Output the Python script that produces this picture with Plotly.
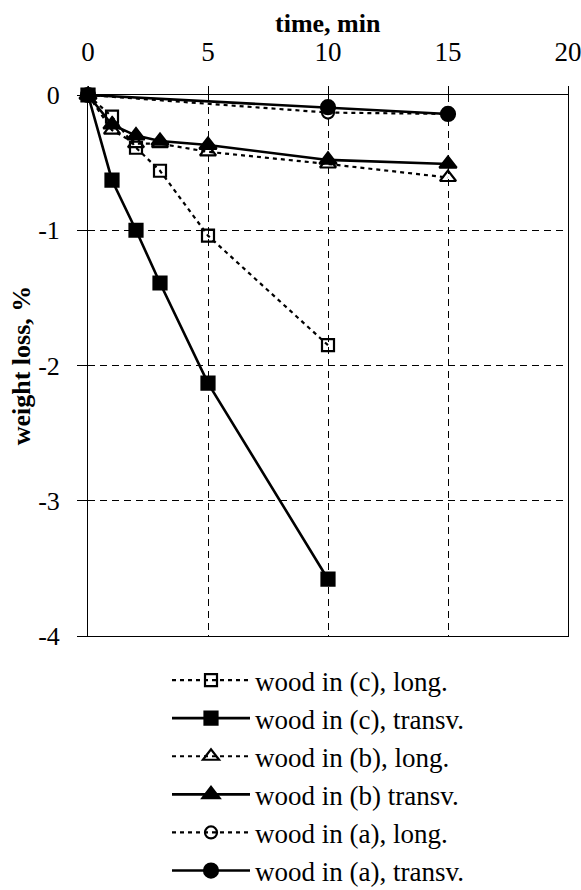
import plotly.graph_objects as go

# ---- data ----
t_c_long = [0, 1, 2, 3, 5, 10]
w_c_long = [0, -0.16, -0.39, -0.56, -1.04, -1.85]

t_c_trans = [0, 1, 2, 3, 5, 10]
w_c_trans = [0, -0.63, -1.0, -1.39, -2.13, -3.58]

t_b_long = [0, 1, 2, 3, 5, 10, 15]
w_b_long = [0, -0.26, -0.36, -0.36, -0.42, -0.51, -0.61]

t_b_trans = [0, 1, 2, 3, 5, 10, 15]
w_b_trans = [0, -0.22, -0.30, -0.34, -0.37, -0.48, -0.51]

t_a_long = [0, 10, 15]
w_a_long = [0, -0.13, -0.14]

t_a_trans = [0, 10, 15]
w_a_trans = [0, -0.09, -0.14]

names = ["wood in (c), long.", "wood in (c), transv.", "wood in (b), long.",
         "wood in (b) transv.", "wood in (a), long.", "wood in (a), transv."]

x_ticks = [0, 5, 10, 15, 20]
y_ticks = [-4, -3, -2, -1, 0]
y_ticktext = ["-4", "-3", "-2", "-1", "0"]

FONT = "Liberation Serif"
DASH = "4px,4px"

series = [
    (t_c_long, w_c_long, names[0], "square-open", 12, DASH, 2.2),
    (t_c_trans, w_c_trans, names[1], "square", 13, "solid", 2.6),
    (t_b_long, w_b_long, names[2], "triangle-up-open", 14, DASH, 2.2),
    (t_b_trans, w_b_trans, names[3], "triangle-up", 15, "solid", 2.6),
    (t_a_long, w_a_long, names[4], "circle-open", 12, DASH, 2.2),
    (t_a_trans, w_a_trans, names[5], "circle", 14, "solid", 2.6),
]

fig = go.Figure()
for i, (x, y, name, sym, size, dash, lw) in enumerate(series):
    fig.add_trace(go.Scatter(
        x=x, y=y, name=name, mode="lines+markers",
        line=dict(color="black", width=lw, dash=dash),
        marker=dict(symbol=sym, size=size, color="black",
                    line=dict(color="black", width=2.2)),
        legendgroup=f"g{i}", cliponaxis=False,
    ))

fig.update_layout(
    width=581, height=890,
    margin=dict(l=88, r=13, t=95, b=254, autoexpand=False),
    paper_bgcolor="white", plot_bgcolor="white",
    font=dict(family=FONT, color="black", size=27),
    showlegend=True,
    legend=dict(
        x=(167 - 88) / 480, xanchor="left",
        y=(636 - 656) / 541, yanchor="top",
        font=dict(family=FONT, size=27, color="black"),
        itemwidth=78,
        tracegroupgap=0,
        bgcolor="rgba(0,0,0,0)",
        borderwidth=0,
    ),
)

fig.add_annotation(
    text="<b>time, min</b>", xref="paper", yref="paper",
    x=0.5, y=1 + (95 - 23) / 541, xanchor="center", yanchor="middle",
    showarrow=False, font=dict(family=FONT, size=26, color="black"),
)

fig.update_xaxes(
    range=[0, 20], side="top",
    tickvals=x_ticks, ticktext=[str(v) for v in x_ticks],
    ticks="outside", ticklen=8, tickwidth=1, tickcolor="black",
    ticklabelstandoff=14, ticklabeloverflow="allow",
    tickfont=dict(family=FONT, size=27, color="black"),
    showline=True, linecolor="black", linewidth=1, mirror=True,
    showgrid=True, gridcolor="black", gridwidth=1, griddash="7px,5px",
    zeroline=False,
)
fig.update_yaxes(
    range=[-4, 0],
    tickvals=y_ticks, ticktext=y_ticktext,
    ticks="outside", ticklen=10, tickwidth=1, tickcolor="black",
    ticklabelstandoff=12, ticklabeloverflow="allow",
    tickfont=dict(family=FONT, size=26, color="black"),
    showline=True, linecolor="black", linewidth=1, mirror=True,
    showgrid=True, gridcolor="black", gridwidth=1, griddash="7px,5px",
    zeroline=False,
    title=dict(text="<b>weight loss, %</b>", font=dict(family=FONT, size=26, color="black"), standoff=0),
)

fig.write_html("out.html")
